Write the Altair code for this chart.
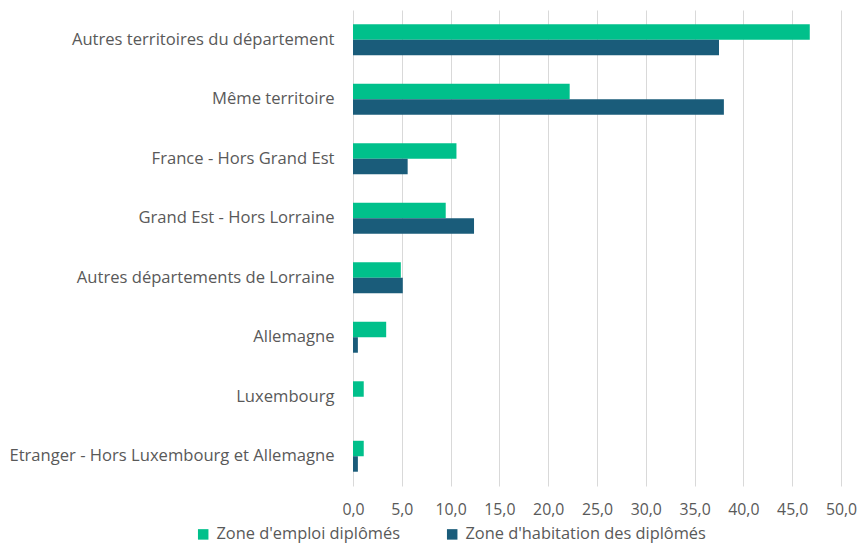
import altair as alt
import pandas as pd

categories = [
    "Autres territoires du département",
    "Même territoire",
    "France - Hors Grand Est ",
    "Grand Est  - Hors Lorraine",
    "Autres départements de Lorraine",
    "Allemagne",
    "Luxembourg",
    "Etranger - Hors Luxembourg et Allemagne",
]
series = ["Zone d'emploi diplômés", "Zone d'habitation des diplômés"]
emploi = [46.8, 22.2, 10.6, 9.5, 4.9, 3.4, 1.1, 1.1]
habitation = [37.5, 38.0, 5.6, 12.4, 5.1, 0.5, 0.0, 0.5]
colors = ["#00C08B", "#1A5C7A"]

rows = []
for c, e, h in zip(categories, emploi, habitation):
    rows.append({"cat": c, "serie": series[0], "val": e})
    rows.append({"cat": c, "serie": series[1], "val": h})
df = pd.DataFrame(rows)

font = "Open Sans"
txt = "#595959"

chart = alt.Chart(df).mark_bar().encode(
    y=alt.Y("cat:N", sort=categories, title=None,
            scale=alt.Scale(paddingInner=0.48, paddingOuter=0.24),
            axis=alt.Axis(domain=False, ticks=False, labelFontSize=16.6, labelFont=font,
                          labelColor=txt, labelPadding=19, minExtent=344, maxExtent=344,
                          labelLimit=400)),
    yOffset=alt.YOffset("serie:N", sort=series),
    x=alt.X("val:Q", title=None,
            scale=alt.Scale(domain=[0, 50], nice=False),
            axis=alt.Axis(values=[0, 5, 10, 15, 20, 25, 30, 35, 40, 45, 50],
                          labelExpr="replace(format(datum.value, '.1f'), '.', ',')",
                          domain=False, ticks=False, labelFontSize=15.8, labelFont=font,
                          labelColor=txt, labelPadding=16, labelFlush=False,
                          labelOverlap=False,
                          gridColor="#D9D9D9", gridWidth=1)),
    color=alt.Color("serie:N", sort=series,
                    scale=alt.Scale(domain=series, range=colors),
                    legend=alt.Legend(title=None, orient="none", direction="horizontal",
                                      legendX=-158, legendY=516,
                                      symbolType="square", symbolSize=110,
                                      symbolStrokeWidth=0, labelLimit=400,
                                      labelFontSize=16.4, labelFont=font, labelColor=txt,
                                      columnPadding=44, labelOffset=5)),
).properties(
    width=488, height=476,
    padding={"left": 0, "top": 2, "right": 0, "bottom": 0},
).configure_view(stroke=None)

chart.save("out.html", embed_options={"renderer": "svg", "actions": False})
